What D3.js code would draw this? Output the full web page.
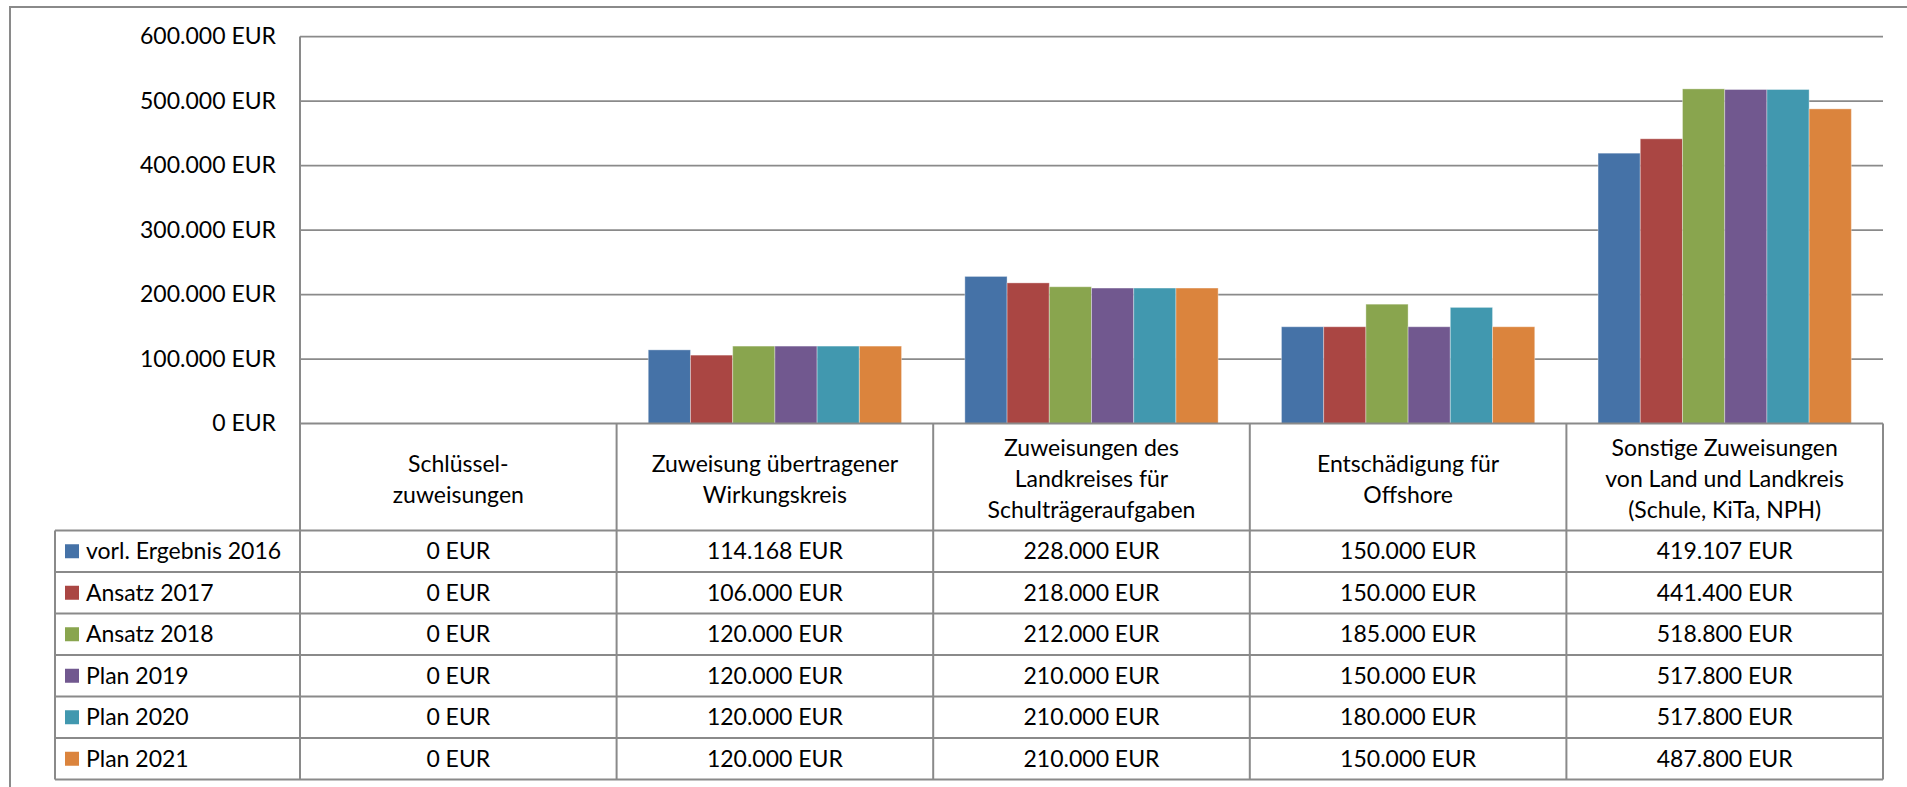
<!DOCTYPE html>
<html>
<head>
<meta charset="utf-8">
<script src="https://cdn.jsdelivr.net/npm/d3@7"></script>
<style>
  body { margin: 0; background: #fff; }
  text { font-family: Lato, "Open Sans", sans-serif; fill: #000; }
</style>
</head>
<body>
<div id="viz"></div>
<script>
var categories = [
  ['Schlüssel-', 'zuweisungen'],
  ['Zuweisung übertragener', 'Wirkungskreis'],
  ['Zuweisungen des', 'Landkreises für', 'Schulträgeraufgaben'],
  ['Entschädigung für', 'Offshore'],
  ['Sonstige Zuweisungen', 'von Land und Landkreis', '(Schule, KiTa, NPH)']
];
var seriesNames = ['vorl. Ergebnis 2016', 'Ansatz 2017', 'Ansatz 2018', 'Plan 2019', 'Plan 2020', 'Plan 2021'];
var values2016 = [0, 114168, 228000, 150000, 419107];
var values2017 = [0, 106000, 218000, 150000, 441400];
var values2018 = [0, 120000, 212000, 185000, 518800];
var values2019 = [0, 120000, 210000, 150000, 517800];
var values2020 = [0, 120000, 210000, 180000, 517800];
var values2021 = [0, 120000, 210000, 150000, 487800];
var yTicks = [0, 100000, 200000, 300000, 400000, 500000, 600000];
var colors = ['#4572A7', '#AA4643', '#89A54E', '#71588F', '#4198AF', '#DB843D'];

var seriesValues = [values2016, values2017, values2018, values2019, values2020, values2021];

var width = 1907, height = 787,
    plotLeft = 300, plotRight = 1883,
    plotTop = 36.5, plotBottom = 423.5,
    headerBottom = 530.5, rowH = 41.5,
    legendLeft = 55,
    lineColor = '#8a8a8a',
    fontSize = 23;

var de = d3.formatLocale({ decimal: ',', thousands: '.', grouping: [3], currency: ['', ''] });
var fmt = function(v) { return de.format(',.0f')(v) + ' EUR'; };

var svg = d3.select('#viz').append('svg')
  .attr('width', width)
  .attr('height', height);

// outer frame
svg.append('path')
  .attr('d', 'M10,' + height + 'V7H' + width)
  .attr('fill', 'none')
  .attr('stroke', lineColor)
  .attr('stroke-width', 2);

var y = d3.scaleLinear()
  .domain([0, 600000])
  .range([plotBottom, plotTop]);

var x0 = d3.scaleBand()
  .domain(d3.range(categories.length))
  .range([plotLeft, plotRight])
  .padding(0);

var x1 = d3.scaleBand()
  .domain(d3.range(seriesNames.length))
  .range([0, x0.bandwidth()])
  .paddingInner(0)
  .paddingOuter(0.75);

// gridlines
svg.append('g').selectAll('line').data(yTicks.slice(1))
  .enter().append('line')
    .attr('x1', plotLeft).attr('x2', plotRight)
    .attr('y1', function(d) { return y(d); })
    .attr('y2', function(d) { return y(d); })
    .attr('stroke', lineColor)
    .attr('stroke-width', 1.75);

// y axis labels
var yAxis = d3.axisLeft(y).tickValues(yTicks).tickSize(0).tickPadding(24).tickFormat(fmt);
var yG = svg.append('g')
  .attr('transform', 'translate(' + plotLeft + ',0)')
  .call(yAxis);
yG.select('.domain').remove();
yG.selectAll('text')
  .style('font-family', 'Lato, sans-serif')
  .style('font-size', fontSize + 'px')
  .attr('fill', '#000');

// bars
var groups = svg.append('g').selectAll('g').data(categories)
  .enter().append('g')
    .attr('transform', function(d, i) { return 'translate(' + x0(i) + ',0)'; });

groups.selectAll('rect')
  .data(function(d, ci) { return seriesValues.map(function(s, si) { return { si: si, v: s[ci] }; }); })
  .enter().append('rect')
    .attr('x', function(d) { return x1(d.si); })
    .attr('width', x1.bandwidth())
    .attr('y', function(d) { return y(d.v); })
    .attr('height', function(d) { return plotBottom - y(d.v); })
    .attr('fill', function(d) { return colors[d.si]; })
    .attr('stroke', 'rgba(255,255,255,0.35)')
    .attr('stroke-width', 1);

// table lines
var tableBottom = headerBottom + rowH * seriesNames.length;
var table = svg.append('g')
  .attr('stroke', lineColor)
  .attr('stroke-width', 2)
  .attr('fill', 'none');

// y axis / first column boundary
table.append('line')
  .attr('x1', plotLeft).attr('x2', plotLeft)
  .attr('y1', plotTop).attr('y2', tableBottom);

// axis baseline / header top
table.append('line')
  .attr('x1', plotLeft).attr('x2', plotRight)
  .attr('y1', plotBottom).attr('y2', plotBottom);

// vertical column lines
d3.range(1, categories.length + 1).forEach(function(i) {
  var xx = i < categories.length ? x0(i) : plotRight;
  table.append('line')
    .attr('x1', xx).attr('x2', xx)
    .attr('y1', plotBottom).attr('y2', tableBottom);
});

// horizontal row lines
d3.range(seriesNames.length + 1).forEach(function(r) {
  var yy = headerBottom + r * rowH;
  table.append('line')
    .attr('x1', legendLeft).attr('x2', plotRight)
    .attr('y1', yy).attr('y2', yy);
});

// legend column left edge
table.append('line')
  .attr('x1', legendLeft).attr('x2', legendLeft)
  .attr('y1', headerBottom).attr('y2', tableBottom);

// header texts
var headerMid = 479;
var lineH = 31;
categories.forEach(function(lines, i) {
  var cx = x0(i) + x0.bandwidth() / 2;
  var startY = headerMid - (lines.length - 1) * lineH / 2;
  var t = svg.append('text')
    .attr('text-anchor', 'middle')
    .style('font-size', fontSize + 'px');
  lines.forEach(function(l, k) {
    t.append('tspan')
      .attr('x', cx)
      .attr('y', startY + k * lineH)
      .attr('dy', '0.35em')
      .text(l);
  });
});

// legend rows and values
seriesNames.forEach(function(name, si) {
  var rowMid = headerBottom + si * rowH + rowH / 2;
  svg.append('rect')
    .attr('x', 65).attr('y', rowMid - 7)
    .attr('width', 14).attr('height', 14)
    .attr('fill', colors[si]);
  svg.append('text')
    .attr('x', 86)
    .attr('y', rowMid)
    .attr('dy', '0.35em')
    .style('font-size', fontSize + 'px')
    .text(name);
  categories.forEach(function(c, ci) {
    svg.append('text')
      .attr('x', x0(ci) + x0.bandwidth() / 2)
      .attr('y', rowMid)
      .attr('dy', '0.35em')
      .attr('text-anchor', 'middle')
      .style('font-size', fontSize + 'px')
      .text(fmt(seriesValues[si][ci]));
  });
});
</script>
</body>
</html>
